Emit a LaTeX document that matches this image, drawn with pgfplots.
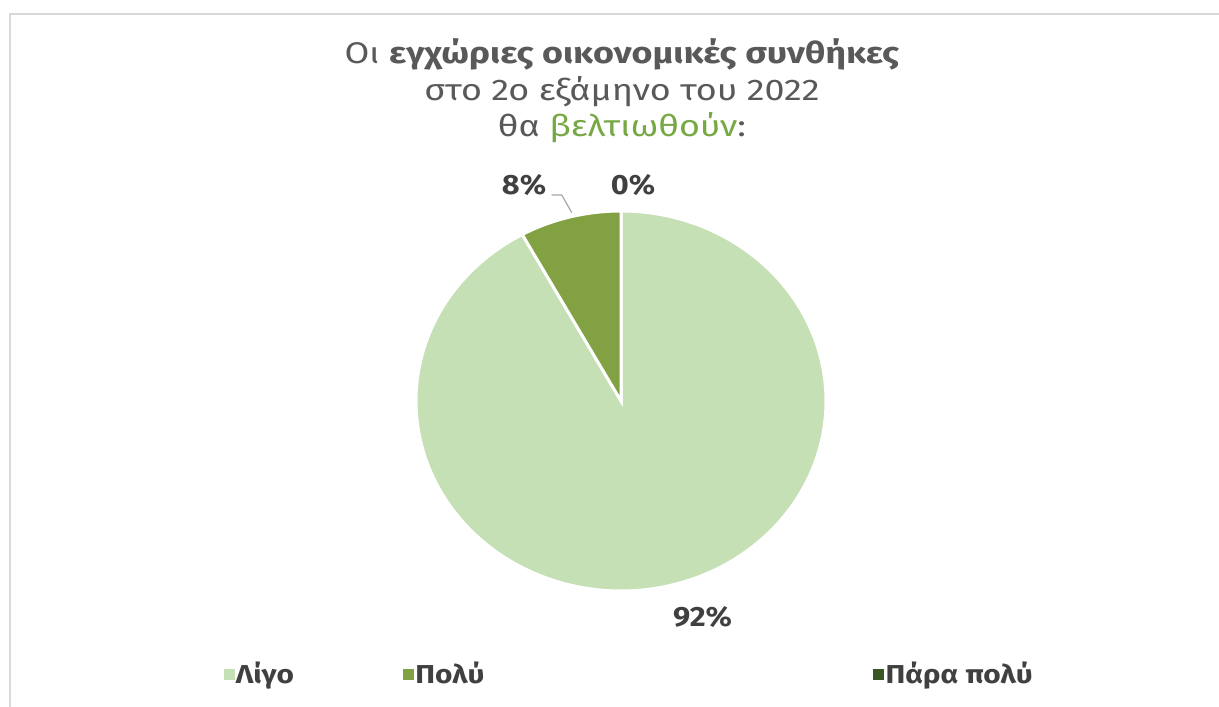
\documentclass[border=0pt]{standalone}
\usepackage{fontspec}
\setmainfont{Fira Sans}
\newfontfamily\widetitle{Fira Sans}[FakeStretch=1.2]
\newfontfamily\widelbl{Fira Sans}[FakeStretch=1.1]
\newfontfamily\widelegend{Fira Sans}[FakeStretch=1.15]
\usepackage{pgfplots}
\usepackage{pgfplotstable}
\pgfplotsset{compat=1.18}
\definecolor{lightg}{HTML}{C5E0B4}
\definecolor{midg}{HTML}{82A142}
\definecolor{darkg}{HTML}{385723}
\definecolor{titleg}{HTML}{76A844}
\definecolor{txt}{HTML}{595959}
\definecolor{lbl}{HTML}{404040}
\definecolor{frame}{HTML}{D9D9D9}
\pgfplotstableread{
label value
Ligo 92
Poly 8
Parapoly 0
}\piedata
\begin{document}
\begin{tikzpicture}[x=1bp,y=1bp]
\useasboundingbox (0,0) rectangle (1219,707);
\draw[frame, line width=2bp] (10,-10) -- (10,693) -- (1240,693);
\node[txt, align=center, font=\widetitle\fontsize{30}{36.5}\selectfont] at (622,616) {Οι \textbf{εγχώριες οικονομικές συνθήκες}\\ στο 2ο εξάμηνο του 2022\\ θα \textcolor{titleg}{βελτιωθούν}:};
\pgfplotstablegetelem{0}{value}\of\piedata \let\va\pgfplotsretval
\pgfplotstablegetelem{1}{value}\of\piedata \let\vb\pgfplotsretval
\pgfplotstablegetelem{2}{value}\of\piedata \let\vc\pgfplotsretval
\pgfmathsetmacro{\aA}{90}
\pgfmathsetmacro{\aB}{90-3.6*\va}
\pgfmathsetmacro{\aC}{\aB-3.6*\vb}
\pgfmathsetmacro{\aD}{\aC-3.6*\vc}
\begin{axis}[
  at={(416bp,116bp)}, anchor=south west,
  scale only axis, width=410bp, height=380bp,
  xmin=-1, xmax=1, ymin=-1, ymax=1,
  hide axis, clip=false,
  legend columns=3,
  legend cell align=left,
  legend style={draw=none, fill=none, at={(-0.47,-0.218)}, anchor=west,
    font=\widelegend\fontsize{26}{28}\selectfont\bfseries, text=lbl, inner sep=0pt,
    /tikz/every even column/.append style={column sep=0pt}},
]
\addplot[fill=lightg, draw=white, line width=3bp, domain=\aB:\aA, samples=180, forget plot] ({cos(x)},{sin(x)}) -- (axis cs:0,0) -- cycle;
\addplot[fill=midg, draw=white, line width=3bp, domain=\aC:\aB, samples=40, forget plot] ({cos(x)},{sin(x)}) -- (axis cs:0,0) -- cycle;
\addlegendimage{legend image code/.code={\fill[lightg] (0bp,-5bp) rectangle (10bp,5bp);}}
\addlegendentry{\makebox[165bp][l]{Λίγο}}
\addlegendimage{legend image code/.code={\fill[midg] (0bp,-5bp) rectangle (10bp,5bp);}}
\addlegendentry{\makebox[456bp][l]{Πολύ}}
\addlegendimage{legend image code/.code={\fill[darkg] (0bp,-5bp) rectangle (10bp,5bp);}}
\addlegendentry{Πάρα πολύ}
\node[lbl, font=\widelbl\fontsize{28}{30}\selectfont\bfseries] at (axis cs:-0.473,1.137) {8\%};
\node[lbl, font=\widelbl\fontsize{28}{30}\selectfont\bfseries] at (axis cs:0.059,1.137) {0\%};
\node[lbl, font=\widelbl\fontsize{28}{30}\selectfont\bfseries] at (axis cs:0.398,-1.137) {92\%};
\draw[gray!70, line width=1.2bp] (axis cs:-0.338,1.084) -- (axis cs:-0.289,1.084) -- (axis cs:-0.240,0.991);
\end{axis}
\end{tikzpicture}
\end{document}
